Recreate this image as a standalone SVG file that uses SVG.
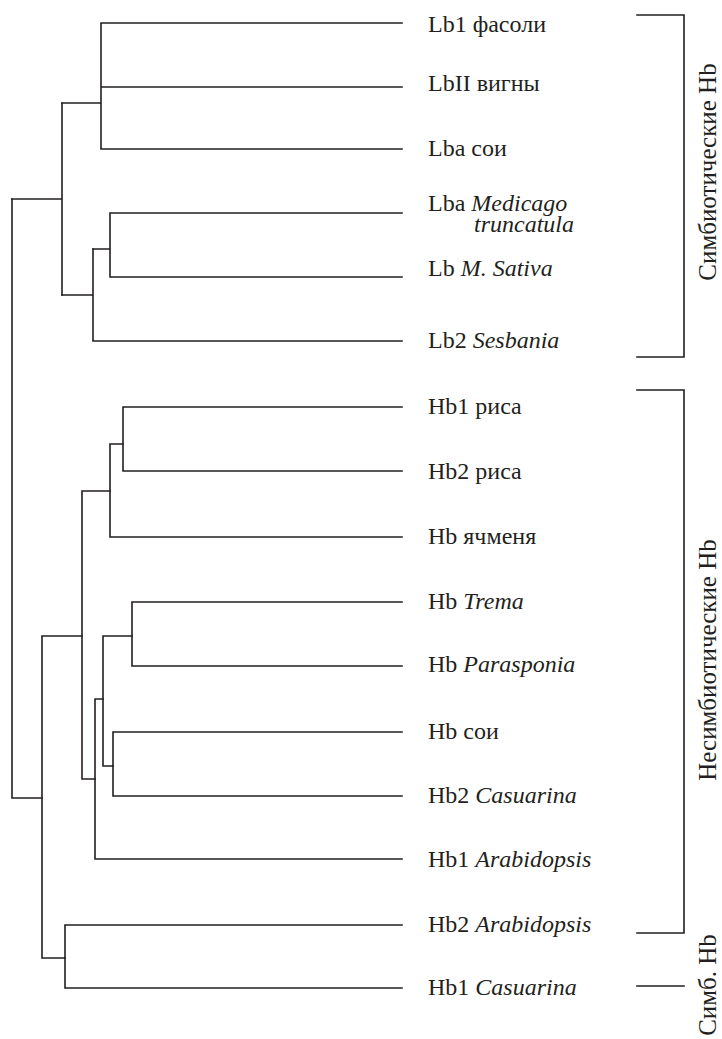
<svg xmlns="http://www.w3.org/2000/svg" width="722" height="1039" viewBox="0 0 722 1039">
<style>
.ln{fill:none;stroke:#231f20;stroke-width:1.6;stroke-linecap:square}
.t{font-family:"Liberation Serif","Times New Roman",serif;font-size:24px;fill:#231f20}
.r{font-size:25px}
.i{font-style:italic}
</style>
<rect width="722" height="1039" fill="#fff"/>
<g id="connectors" class="ln">
<path d="M101,23V149M101,23H402M101,87H402M101,149H402M62,103H101"/>
<path d="M110,213V277M110,213H402M110,277H402M93,249H110"/>
<path d="M93,249V341M93,341H402M62,295H93"/>
<path d="M62,103V295M12,199H62"/>
<path d="M12,199V798M12,798H42"/>
<path d="M42,636V958M42,636H82M42,958H65"/>
<path d="M65,925V988M65,925H402M65,988H402"/>
<path d="M82,491V779M82,491H110M82,779H95"/>
<path d="M110,444V537M110,444H123M110,537H402"/>
<path d="M123,407V471M123,407H402M123,471H402"/>
<path d="M95,699V859M95,699H103M95,859H402"/>
<path d="M103,636V766M103,636H132M103,766H113"/>
<path d="M132,602V666M132,602H402M132,666H402"/>
<path d="M113,732V796M113,732H402M113,796H402"/>
</g>
<g id="brackets" class="ln">
<path d="M637,15H684V357H637"/>
<path d="M637,390H684V933H637"/>
<path d="M637,986H684"/>
</g>
<g id="n1"><text class="t" x="428" y="32">Lb1 фасоли</text></g>
<g id="n2"><text class="t" x="428" y="91">LbII вигны</text></g>
<g id="n3"><text class="t" x="428" y="156">Lba сои</text></g>
<g id="n4"><text class="t" x="428" y="211">Lba <tspan class="i">Medicago</tspan></text><text class="t i" x="474" y="232">truncatula</text></g>
<g id="n5"><text class="t" x="428" y="276">Lb <tspan class="i">M. Sativa</tspan></text></g>
<g id="n6"><text class="t" x="428" y="348">Lb2 <tspan class="i">Sesbania</tspan></text></g>
<g id="n7"><text class="t" x="428" y="414">Hb1 риса</text></g>
<g id="n8"><text class="t" x="428" y="479">Hb2 риса</text></g>
<g id="n9"><text class="t" x="428" y="544">Hb ячменя</text></g>
<g id="n10"><text class="t" x="428" y="609">Hb <tspan class="i">Trema</tspan></text></g>
<g id="n11"><text class="t" x="428" y="672">Hb <tspan class="i">Parasponia</tspan></text></g>
<g id="n12"><text class="t" x="428" y="739">Hb сои</text></g>
<g id="n13"><text class="t" x="428" y="803">Hb2 <tspan class="i">Casuarina</tspan></text></g>
<g id="n14"><text class="t" x="428" y="867">Hb1 <tspan class="i">Arabidopsis</tspan></text></g>
<g id="n15"><text class="t" x="428" y="932">Hb2 <tspan class="i">Arabidopsis</tspan></text></g>
<g id="n16"><text class="t" x="428" y="995">Hb1 <tspan class="i">Casuarina</tspan></text></g>
<g id="g1"><text class="t r" text-anchor="middle" transform="translate(716,172) rotate(-90)">Симбиотические Hb</text></g>
<g id="g2"><text class="t r" text-anchor="middle" transform="translate(716,660) rotate(-90)">Несимбиотические Hb</text></g>
<g id="g3"><text class="t r" text-anchor="middle" transform="translate(716,985) rotate(-90)">Симб. Hb</text></g>
</svg>
